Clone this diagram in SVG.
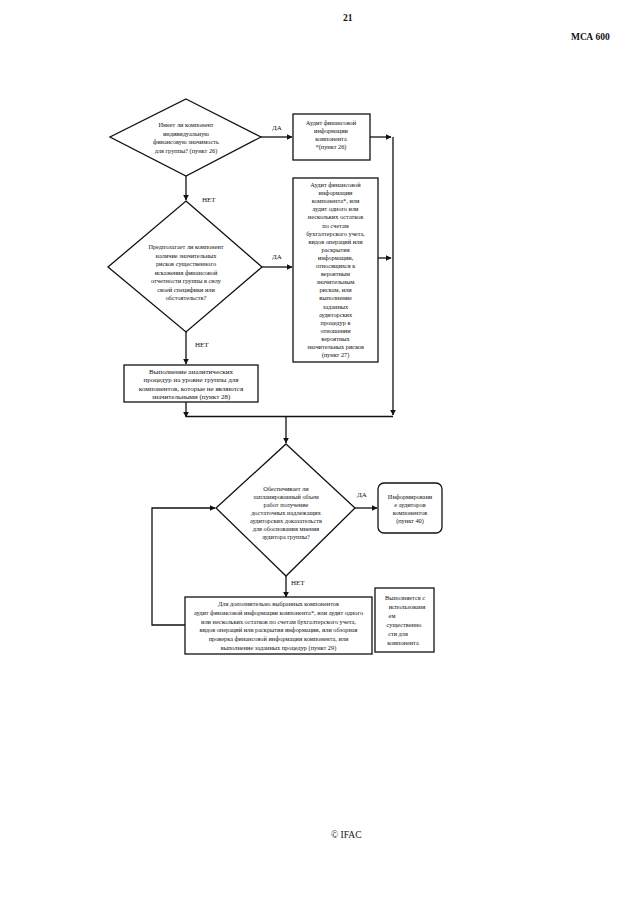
<svg xmlns="http://www.w3.org/2000/svg" width="640" height="905" viewBox="0 0 640 905">
<defs>
<marker id="ah" viewBox="0 0 10 10" refX="9" refY="5" markerWidth="6" markerHeight="6" orient="auto" markerUnits="userSpaceOnUse">
<path d="M0,0 L10,5 L0,10 z" fill="#111"/>
</marker>
<style>
.s{fill:#fff;stroke:#111;stroke-width:1.3}
.c{fill:none;stroke:#111;stroke-width:1.3}
text{font-family:"Liberation Serif","Times New Roman",serif;fill:#111}
.t{font-size:6.3px;text-anchor:middle}
.t7{font-size:7px;text-anchor:middle}
.l{font-size:7px}
.h{font-size:9.5px;font-weight:bold}
</style>
</defs>
<rect width="640" height="905" fill="#fff"/>
<text class="h" x="343" y="21">21</text>
<text class="h" x="571" y="40">МСА 600</text>
<text class="h" x="331" y="838" style="font-weight:normal">© IFAC</text>

<g id="connectors">
<path class="c" d="M186,176 V200" marker-end="url(#ah)"/>
<path class="c" d="M261,137 H292" marker-end="url(#ah)"/>
<path class="c" d="M370,137 H391" marker-end="url(#ah)"/>
<path class="c" d="M393,137 V415" marker-end="url(#ah)"/>
<path class="c" d="M261,267 H292" marker-end="url(#ah)"/>
<path class="c" d="M378,258 H391" marker-end="url(#ah)"/>
<path class="c" d="M186,332 V364" marker-end="url(#ah)"/>
<path class="c" d="M186,402 V417" marker-end="url(#ah)"/>
<path class="c" d="M186,416.5 H393"/>
<path class="c" d="M286,416.5 V443" marker-end="url(#ah)"/>
<path class="c" d="M355,508 H377" marker-end="url(#ah)"/>
<path class="c" d="M286,576 V597" marker-end="url(#ah)"/>
<path class="c" d="M185,625 H152 V508 H215" marker-end="url(#ah)"/>
<text class="l" x="272" y="130">ДА</text>
<text class="l" x="202" y="202">НЕТ</text>
<text class="l" x="272" y="259">ДА</text>
<text class="l" x="195" y="347">НЕТ</text>
<text class="l" x="357" y="497">ДА</text>
<text class="l" x="291" y="585">НЕТ</text>
</g>

<g id="d1">
<polygon class="s" points="186,99 261,137 186,176 110,137"/>
<text class="t" x="186" y="127">Имеет ли компонент</text>
<text class="t" x="186" y="135.5">индивидуальную</text>
<text class="t" x="186" y="144">финансовую значимость</text>
<text class="t" x="186" y="152.5">для группы? (пункт 26)</text>
</g>

<g id="b1">
<rect class="s" x="293" y="114" width="77" height="46"/>
<text class="t" x="331" y="125">Аудит финансовой</text>
<text class="t" x="331" y="133">информации</text>
<text class="t" x="331" y="141">компонента</text>
<text class="t" x="331" y="149">*(пункт 26)</text>
</g>

<g id="d2">
<polygon class="s" points="186,201 262,267 186,332 108,267"/>
<text class="t" x="186" y="249">Предполагает ли компонент</text>
<text class="t" x="186" y="257.5">наличие значительных</text>
<text class="t" x="186" y="266">рисков существенного</text>
<text class="t" x="186" y="274.5">искажения финансовой</text>
<text class="t" x="186" y="283">отчетности группы в силу</text>
<text class="t" x="186" y="291.5">своей специфики или</text>
<text class="t" x="186" y="300">обстоятельств?</text>
</g>

<g id="b2">
<rect class="s" x="293" y="178" width="85" height="184"/>
<text class="t" x="335.5" y="187">Аудит финансовой</text>
<text class="t" x="335.5" y="195.1">информации</text>
<text class="t" x="335.5" y="203.2">компонента*, или</text>
<text class="t" x="335.5" y="211.3">аудит одного или</text>
<text class="t" x="335.5" y="219.4">нескольких остатков</text>
<text class="t" x="335.5" y="227.5">по счетам</text>
<text class="t" x="335.5" y="235.6">бухгалтерского учета,</text>
<text class="t" x="335.5" y="243.7">видов операций или</text>
<text class="t" x="335.5" y="251.8">раскрытия</text>
<text class="t" x="335.5" y="259.9">информации,</text>
<text class="t" x="335.5" y="268">относящихся к</text>
<text class="t" x="335.5" y="276.1">вероятным</text>
<text class="t" x="335.5" y="284.2">значительным</text>
<text class="t" x="335.5" y="292.3">рискам, или</text>
<text class="t" x="335.5" y="300.4">выполнение</text>
<text class="t" x="335.5" y="308.5">заданных</text>
<text class="t" x="335.5" y="316.6">аудиторских</text>
<text class="t" x="335.5" y="324.7">процедур в</text>
<text class="t" x="335.5" y="332.8">отношении</text>
<text class="t" x="335.5" y="340.9">вероятных</text>
<text class="t" x="335.5" y="349">значительных рисков</text>
<text class="t" x="335.5" y="357.1">(пункт 27)</text>
</g>

<g id="b3">
<rect class="s" x="124" y="365" width="134" height="37"/>
<text class="t7" x="191" y="373.5">Выполнение аналитических</text>
<text class="t7" x="191" y="382">процедур на уровне группы для</text>
<text class="t7" x="191" y="390.5">компонентов, которые не являются</text>
<text class="t7" x="191" y="399">значительными (пункт 28)</text>
</g>

<g id="d3">
<polygon class="s" points="286,444 355,508 286,576 216,508"/>
<text class="t" x="286" y="491">Обеспечивает ли</text>
<text class="t" x="286" y="499">запланированный объем</text>
<text class="t" x="286" y="507">работ получение</text>
<text class="t" x="286" y="515">достаточных надлежащих</text>
<text class="t" x="286" y="523">аудиторских доказательств</text>
<text class="t" x="286" y="531">для обоснования мнения</text>
<text class="t" x="286" y="539">аудитора группы?</text>
</g>

<g id="b4">
<rect class="s" x="378" y="483" width="64" height="50" rx="6"/>
<text class="t" x="410" y="499">Информировани</text>
<text class="t" x="410" y="507">е аудиторов</text>
<text class="t" x="410" y="515">компонентов</text>
<text class="t" x="410" y="523">(пункт 40)</text>
</g>

<g id="b5">
<rect class="s" x="185" y="597" width="187" height="57"/>
<text class="t" x="278.5" y="606">Для дополнительно выбранных компонентов</text>
<text class="t" x="278.5" y="614.8">аудит финансовой информации компонента*, или аудит одного</text>
<text class="t" x="278.5" y="623.6">или нескольких остатков по счетам бухгалтерского учета,</text>
<text class="t" x="278.5" y="632.4">видов операций или раскрытия информации, или обзорная</text>
<text class="t" x="278.5" y="641.2">проверка финансовой информации компонента, или</text>
<text class="t" x="278.5" y="650">выполнение заданных процедур (пункт 29)</text>
</g>

<g id="note">
<rect class="s" x="375" y="588" width="59" height="64"/>
<text class="t" x="405" y="600">Выполняется с</text>
<text class="t" x="407" y="609">использовани</text>
<text class="t" x="392" y="618">ем</text>
<text class="t" x="404" y="627">существенно</text>
<text class="t" x="398" y="636">сти для</text>
<text class="t" x="403" y="645">компонента</text>
</g>
</svg>
